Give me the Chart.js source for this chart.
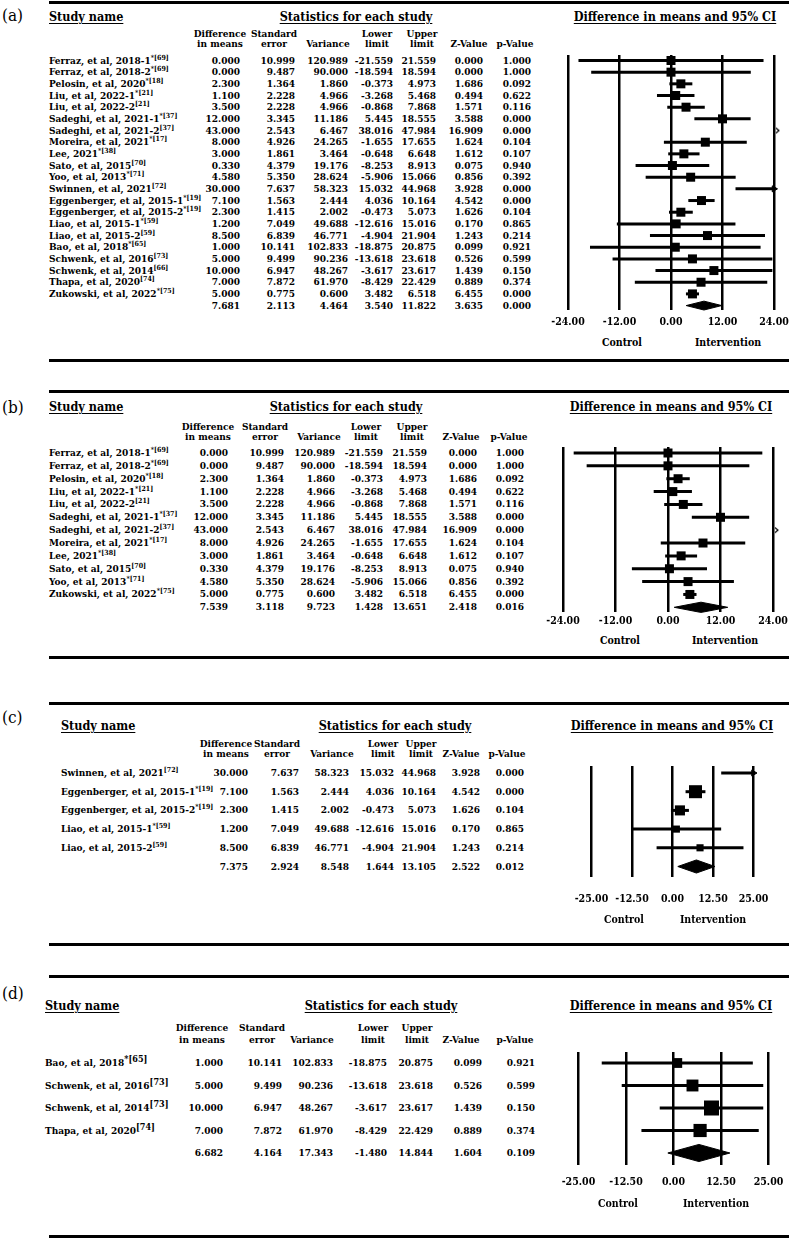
<!DOCTYPE html>
<html>
<head>
<meta charset="utf-8">
<script src="https://cdn.jsdelivr.net/npm/chart.js@4.4.0/dist/chart.umd.min.js"></script>
<style>
  body { margin: 0; background: #fff; }
  #page { position: relative; width: 789px; height: 1239px; overflow: hidden; background: #fff; color: #000;
          font-family: "DejaVu Serif Condensed", "DejaVu Serif", serif; font-stretch: condensed; }
  .t { position: absolute; white-space: nowrap; font-weight: bold; font-size: 10px; line-height: 12px; }
  .title { font-size: 12.5px; text-decoration: underline; text-underline-offset: 2px; }
  .lbl { font-size: 17px; font-weight: normal; }
  .side { font-size: 10.5px; }
  .rule { position: absolute; left: 49px; width: 740px; height: 3px; background: #000; }
  sup { font-size: 7px; vertical-align: 4px; line-height: 0; }
  canvas { position: absolute; }
</style>
</head>
<body>
<div id="page"></div>
<script>
const FONT = "'DejaVu Serif Condensed', 'DejaVu Serif', serif";

// ---- studies (all rows of panel a) ----
const studyNames = ["Ferraz, et al, 2018-1*", "Ferraz, et al, 2018-2*", "Pelosin, et al, 2020*", "Liu, et al, 2022-1*",
  "Liu, et al, 2022-2", "Sadeghi, et al, 2021-1*", "Sadeghi, et al, 2021-2", "Moreira, et al, 2021*", "Lee, 2021*",
  "Sato, et al, 2015", "Yoo, et al, 2013*", "Swinnen, et al, 2021", "Eggenberger, et al, 2015-1*",
  "Eggenberger, et al, 2015-2*", "Liao, et al, 2015-1*", "Liao, et al, 2015-2", "Bao, et al, 2018*",
  "Schwenk, et al, 2016", "Schwenk, et al, 2014", "Thapa, et al, 2020", "Zukowski, et al, 2022*"];
const studyRefs = ["69", "69", "18", "21", "21", "37", "37", "17", "38", "70", "71", "72", "19", "19", "59", "59", "65", "73", "66", "74", "75"];
const diffMeans = [0.000, 0.000, 2.300, 1.100, 3.500, 12.000, 43.000, 8.000, 3.000, 0.330, 4.580, 30.000, 7.100, 2.300, 1.200, 8.500, 1.000, 5.000, 10.000, 7.000, 5.000];
const stdErr = [10.999, 9.487, 1.364, 2.228, 2.228, 3.345, 2.543, 4.926, 1.861, 4.379, 5.350, 7.637, 1.563, 1.415, 7.049, 6.839, 10.141, 9.499, 6.947, 7.872, 0.775];
const variance = [120.989, 90.000, 1.860, 4.966, 4.966, 11.186, 6.467, 24.265, 3.464, 19.176, 28.624, 58.323, 2.444, 2.002, 49.688, 46.771, 102.833, 90.236, 48.267, 61.970, 0.600];
const lowerLimit = [-21.559, -18.594, -0.373, -3.268, -0.868, 5.445, 38.016, -1.655, -0.648, -8.253, -5.906, 15.032, 4.036, -0.473, -12.616, -4.904, -18.875, -13.618, -3.617, -8.429, 3.482];
const upperLimit = [21.559, 18.594, 4.973, 5.468, 7.868, 18.555, 47.984, 17.655, 6.648, 8.913, 15.066, 44.968, 10.164, 5.073, 15.016, 21.904, 20.875, 23.618, 23.617, 22.429, 6.518];
const zValue = [0.000, 0.000, 1.686, 0.494, 1.571, 3.588, 16.909, 1.624, 1.612, 0.075, 0.856, 3.928, 4.542, 1.626, 0.170, 1.243, 0.099, 0.526, 1.439, 0.889, 6.455];
const pValue = [1.000, 1.000, 0.092, 0.622, 0.116, 0.000, 0.000, 0.104, 0.107, 0.940, 0.392, 0.000, 0.000, 0.104, 0.865, 0.214, 0.921, 0.599, 0.150, 0.374, 0.000];

// which studies go in each panel
const rowsA = [0, 1, 2, 3, 4, 5, 6, 7, 8, 9, 10, 11, 12, 13, 14, 15, 16, 17, 18, 19, 20];
const rowsB = [0, 1, 2, 3, 4, 5, 6, 7, 8, 9, 10, 20];
const rowsC = [11, 12, 13, 14, 15];
const rowsD = [16, 17, 18, 19];
const refsD = ["65", "73", "73", "74"];

// relative weights
const weightsA = [5, 5, 5, 5, 5, 5, 5, 5, 5, 5, 5, 5, 5, 5, 5, 5, 5, 5, 5, 5, 5];
const weightsB = [8, 8, 8, 8, 8, 8, 8, 8, 8, 8, 8, 8];
const weightsC = [10, 40, 24, 12, 12];
const weightsD = [15, 22, 35, 27];

// pooled: diff, se, variance, lower, upper, z, p
const summaryA = [7.681, 2.113, 4.464, 3.540, 11.822, 3.635, 0.000];
const summaryB = [7.539, 3.118, 9.723, 1.428, 13.651, 2.418, 0.016];
const summaryC = [7.375, 2.924, 8.548, 1.644, 13.105, 2.522, 0.012];
const summaryD = [6.682, 4.164, 17.343, -1.480, 14.844, 1.604, 0.109];

const ticksAB = [-24, -12, 0, 12, 24];
const ticksCD = [-25, -12.5, 0, 12.5, 25];

const headerLines = [["Difference", "in means"], ["Standard", "error"], ["", "Variance"], ["Lower", "limit"],
  ["Upper", "limit"], ["", "Z-Value"], ["", "p-Value"]];

// layout of each panel
const panels = [
  { label: "(a)", labelY: 15, rules: [2, 360], titleY: 17, studyX: 49, statsX: 356, ciX: 675,
    headY: [34, 44], headX: [220, 274, 328, 377, 422, 469, 515], colX: [240, 295, 348, 393, 436, 483, 531],
    grid: { left: 568, right: 774, top: 55, bottom: 310 }, rowY0: 60.5, rowStep: 11.67, tickY: 322,
    ctrlY: 342, ctrlX: 622, intX: 728, diamondH: 0.38, boxBase: 9, boxRef: 5, supSize: 7,
    rows: rowsA, refs: null, weights: weightsA, summary: summaryA, ticks: ticksAB },
  { label: "(b)", labelY: 407, rules: [391, 657], titleY: 407, studyX: 49, statsX: 346, ciX: 671,
    headY: [427, 437], headX: [208, 265, 319, 366, 412, 461, 509], colX: [228, 284, 335, 383, 427, 477, 524],
    grid: { left: 563, right: 773, top: 447, bottom: 612 }, rowY0: 453, rowStep: 12.86, tickY: 621,
    ctrlY: 640, ctrlX: 620, intX: 725, diamondH: 0.4, boxBase: 9, boxRef: 8, supSize: 7,
    rows: rowsB, refs: null, weights: weightsB, summary: summaryB, ticks: ticksAB },
  { label: "(c)", labelY: 717, rules: [703, 944], titleY: 726, studyX: 61, statsX: 395, ciX: 672,
    headY: [744, 754], headX: [226, 277, 332, 383, 421, 461, 507], colX: [248, 299, 349, 394, 436, 480, 524],
    grid: { left: 584, right: 759, top: 766, bottom: 877 }, rowY0: 773, rowStep: 18.7, tickY: 899,
    ctrlY: 919, ctrlX: 624, intX: 713, diamondH: 0.35, boxBase: 13, boxRef: 40, supSize: 7,
    rows: rowsC, refs: null, weights: weightsC, summary: summaryC, ticks: ticksCD },
  { label: "(d)", labelY: 993, rules: [976, 1236], titleY: 1006, studyX: 45, statsX: 381, ciX: 671,
    headY: [1028, 1040], headX: [202, 262, 312, 373, 417, 461, 515], colX: [223, 282, 333, 387, 433, 482, 535],
    grid: { left: 576, right: 769, top: 1052, bottom: 1165 }, rowY0: 1063, rowStep: 22.5, tickY: 1182,
    ctrlY: 1203, ctrlX: 618, intX: 716, diamondH: 0.38, boxBase: 15, boxRef: 35, supSize: 9,
    rows: rowsD, refs: refsD, weights: weightsD, summary: summaryD, ticks: ticksCD }
];

const page = document.getElementById("page");

function addText(html, x, y, align, cls) {
  const d = document.createElement("div");
  d.className = "t " + (cls || "");
  d.innerHTML = html;
  const tx = align === "right" ? "-100%" : align === "center" ? "-50%" : "0";
  d.style.left = x + "px";
  d.style.top = y + "px";
  d.style.transform = `translate(${tx}, -50%)`;
  page.appendChild(d);
  return d;
}

function addRule(y) {
  const r = document.createElement("div");
  r.className = "rule";
  r.style.top = (y - 1) + "px";
  page.appendChild(r);
}

// small ">" mark for a study lying wholly off the right of the scale
const offMark = document.createElement("canvas");
offMark.width = 12;
offMark.height = 8;
(function () {
  const c = offMark.getContext("2d");
  c.strokeStyle = "#000";
  c.lineWidth = 1.2;
  c.beginPath();
  c.moveTo(8, 1.5);
  c.lineTo(11, 4);
  c.lineTo(8, 6.5);
  c.stroke();
})();

function buildPanel(p) {
  p.rules.forEach(addRule);
  addText(p.label, 2, p.labelY, "left", "lbl");
  addText("Study name", p.studyX, p.titleY, "left", "title");
  addText("Statistics for each study", p.statsX, p.titleY, "center", "title");
  addText("Difference in means and 95% CI", p.ciX, p.titleY, "center", "title");
  headerLines.forEach((lines, c) => {
    lines.forEach((txt, l) => { if (txt) addText(txt, p.headX[c], p.headY[l], "center"); });
  });

  const n = p.rows.length;
  const xMin = p.ticks[0];
  const xMax = p.ticks[p.ticks.length - 1];
  const pad = 25;
  const tickFont = 10.5;

  const datasets = [];
  const boxes = [], boxRadius = [], arrows = [], offScale = [];
  p.rows.forEach((k, i) => {
    const lo = lowerLimit[k], hi = upperLimit[k], est = diffMeans[k];
    if (lo > xMax) { offScale.push({ x: xMax, y: i }); return; }
    datasets.push({
      data: [{ x: Math.max(lo, xMin), y: i }, { x: Math.min(hi, xMax), y: i }],
      showLine: true, borderColor: "#000", borderWidth: 3, pointRadius: 0, clip: false
    });
    if (hi > xMax) arrows.push({ x: xMax, y: i });
    if (est <= xMax) {
      boxes.push({ x: est, y: i });
      boxRadius.push(p.boxBase * Math.sqrt(p.weights[i] / p.boxRef) / Math.SQRT2);
    }
  });
  datasets.push({ data: boxes, pointStyle: "rect", pointRadius: boxRadius, backgroundColor: "#000", borderWidth: 0, clip: false });
  datasets.push({ data: arrows, pointStyle: "triangle", rotation: 90, pointRadius: 3.5, backgroundColor: "#000", borderColor: "#000", borderWidth: 1, clip: false });
  datasets.push({ data: offScale, pointStyle: offMark, clip: false });
  const s = p.summary, h = p.diamondH;
  datasets.push({
    data: [{ x: s[3], y: n }, { x: s[0], y: n - h }, { x: s[4], y: n }, { x: s[0], y: n + h }, { x: s[3], y: n }],
    showLine: true, fill: "shape", backgroundColor: "#000", borderColor: "#000", borderWidth: 1, pointRadius: 0, clip: false
  });

  const g = p.grid;
  const tickPad = p.tickY - g.bottom - tickFont * 0.6;
  const canvas = document.createElement("canvas");
  const cw = g.right - g.left + 2 * pad;
  const ch = Math.round(g.bottom - g.top + tickPad + tickFont * 1.2 + 2);
  canvas.width = cw;
  canvas.height = ch;
  canvas.style.left = (g.left - pad) + "px";
  canvas.style.top = g.top + "px";
  canvas.style.width = cw + "px";
  canvas.style.height = ch + "px";
  page.appendChild(canvas);

  const chart = new Chart(canvas.getContext("2d"), {
    type: "scatter",
    data: { datasets },
    options: {
      responsive: false,
      maintainAspectRatio: false,
      animation: false,
      events: [],
      layout: { autoPadding: false, padding: { left: pad, right: pad, top: 0, bottom: 0 } },
      plugins: { legend: { display: false }, tooltip: { enabled: false } },
      scales: {
        x: {
          type: "linear", min: xMin, max: xMax,
          afterBuildTicks: (axis) => { axis.ticks = p.ticks.map(v => ({ value: v })); },
          grid: { color: "#000", lineWidth: 2.5, drawTicks: false },
          border: { display: false },
          ticks: { color: "#000", padding: tickPad, maxRotation: 0, autoSkip: false,
                   font: { family: FONT, size: tickFont, weight: "bold" },
                   callback: (v) => Number(v).toFixed(2) }
        },
        y: {
          display: false, reverse: true,
          min: (g.top - p.rowY0) / p.rowStep, max: (g.bottom - p.rowY0) / p.rowStep
        }
      }
    }
  });

  // make the plot area end where the reference's grid lines end
  const dy = Math.round((g.bottom - g.top) - chart.chartArea.bottom);
  if (dy !== 0) chart.resize(cw, ch + dy);

  // table text, aligned on the chart's own row scale
  const yAt = (i) => g.top + chart.scales.y.getPixelForValue(i);
  p.rows.forEach((k, i) => {
    const name = studyNames[k];
    const star = name.endsWith("*");
    const ref = p.refs ? p.refs[i] : studyRefs[k];
    const html = name.replace(/\*$/, "") + `<sup style="font-size:${p.supSize}px">${star ? "*" : ""}[${ref}]</sup>`;
    const y = yAt(i);
    addText(html, p.studyX, y, "left");
    [diffMeans[k], stdErr[k], variance[k], lowerLimit[k], upperLimit[k], zValue[k], pValue[k]].forEach((v, c) => {
      addText(v.toFixed(3), p.colX[c], y, "right");
    });
  });
  p.summary.forEach((v, c) => addText(v.toFixed(3), p.colX[c], yAt(n), "right"));

  addText("Control", p.ctrlX, p.ctrlY, "center", "side");
  addText("Intervention", p.intX, p.ctrlY, "center", "side");
}

panels.forEach(buildPanel);
</script>
</body>
</html>
